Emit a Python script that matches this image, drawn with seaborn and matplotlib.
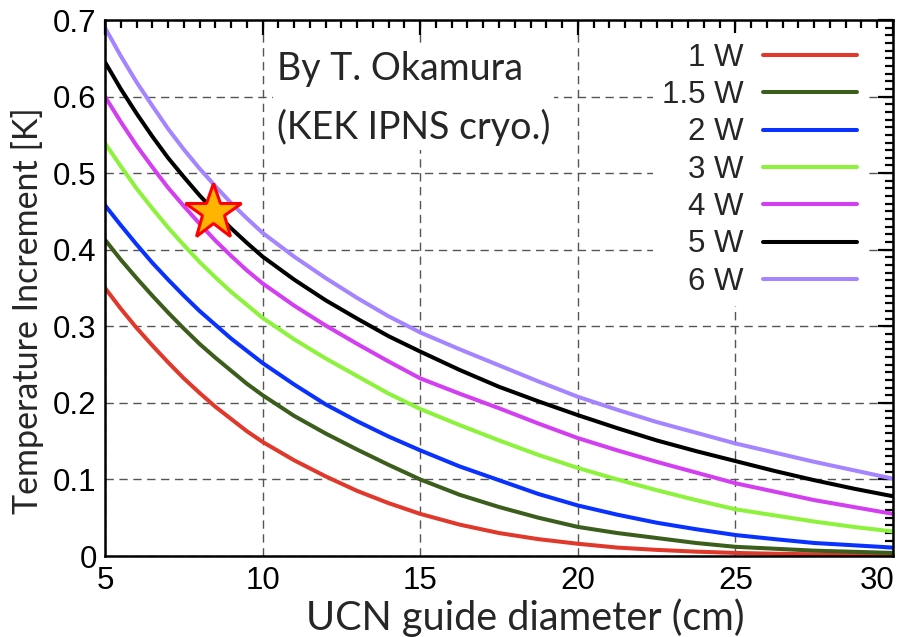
import numpy as np
import pandas as pd
import matplotlib
matplotlib.use("Agg")
import matplotlib.pyplot as plt
import matplotlib.transforms as mtransforms
from matplotlib.lines import Line2D
from matplotlib.ticker import MultipleLocator
import seaborn as sns

# ---- data ----
diameter_cm = [5, 5.5, 6, 6.5, 7, 7.5, 8, 8.5, 9, 9.5, 10, 11, 12, 13, 14, 15,
               16.25, 17.5, 18.75, 20, 21.25, 22.5, 23.75, 25, 26.25, 27.5, 28.75, 30]
t_1w = [0.350, 0.323, 0.298, 0.275, 0.253, 0.232, 0.213, 0.195, 0.179, 0.163, 0.149, 0.125,
        0.104, 0.085, 0.069, 0.055, 0.041, 0.030, 0.022, 0.016, 0.011, 0.008, 0.0057, 0.004,
        0.003, 0.0022, 0.0016, 0.001]
t_1p5w = [0.413, 0.387, 0.363, 0.340, 0.318, 0.297, 0.277, 0.259, 0.242, 0.225, 0.210, 0.183,
          0.160, 0.139, 0.119, 0.100, 0.080, 0.064, 0.050, 0.038, 0.030, 0.0235, 0.017, 0.012,
          0.0095, 0.007, 0.0055, 0.004]
t_2w = [0.458, 0.432, 0.407, 0.383, 0.361, 0.340, 0.320, 0.302, 0.284, 0.268, 0.252, 0.224,
        0.198, 0.176, 0.156, 0.138, 0.117, 0.099, 0.081, 0.066, 0.054, 0.0435, 0.035, 0.0274,
        0.022, 0.017, 0.014, 0.011]
t_3w = [0.539, 0.509, 0.480, 0.454, 0.429, 0.406, 0.384, 0.364, 0.345, 0.328, 0.311, 0.283,
        0.258, 0.235, 0.212, 0.192, 0.171, 0.151, 0.132, 0.115, 0.100, 0.086, 0.073, 0.061,
        0.053, 0.045, 0.038, 0.032]
t_4w = [0.600, 0.567, 0.536, 0.508, 0.481, 0.457, 0.434, 0.412, 0.392, 0.373, 0.356, 0.327,
        0.301, 0.277, 0.254, 0.232, 0.212, 0.193, 0.173, 0.154, 0.138, 0.123, 0.109, 0.095,
        0.084, 0.073, 0.064, 0.055]
t_5w = [0.645, 0.610, 0.578, 0.548, 0.520, 0.495, 0.471, 0.449, 0.428, 0.409, 0.391, 0.361,
        0.334, 0.310, 0.287, 0.267, 0.243, 0.221, 0.202, 0.184, 0.167, 0.151, 0.137, 0.124,
        0.111, 0.099, 0.088, 0.078]
t_6w = [0.690, 0.653, 0.619, 0.588, 0.558, 0.531, 0.506, 0.483, 0.461, 0.441, 0.422, 0.391,
        0.363, 0.337, 0.313, 0.292, 0.270, 0.249, 0.228, 0.208, 0.191, 0.175, 0.161, 0.147,
        0.135, 0.123, 0.112, 0.101]

series_labels = ["1 W", "1.5 W", "2 W", "3 W", "4 W", "5 W", "6 W"]
series_colors = ["#e0392b", "#3b5e1d", "#0a32ff", "#8cf23c", "#d23ef0", "#000000", "#a484ff"]

star_x = [8.42]
star_y = [0.449]

x_ticks = [5, 10, 15, 20, 25, 30]
y_ticks = [0, 0.1, 0.2, 0.3, 0.4, 0.5, 0.6, 0.7]
y_tick_labels = ["0", "0.1", "0.2", "0.3", "0.4", "0.5", "0.6", "0.7"]

credit_text = "By T. Okamura\n(KEK IPNS cryo.)"
x_label = "UCN guide diameter (cm)"
y_label = "Temperature Increment [K]"

# ---- build long-form table ----
all_series = [t_1w, t_1p5w, t_2w, t_3w, t_4w, t_5w, t_6w]
rows = []
for lab, vals in zip(series_labels, all_series):
    for d, v in zip(diameter_cm, vals):
        rows.append((lab, d, v))
df = pd.DataFrame(rows, columns=["power", "diameter", "dT"])
palette = dict(zip(series_labels, series_colors))

sns.set_theme(style="white")
plt.rcParams['font.family'] = ['Liberation Sans', 'DejaVu Sans']

fig = plt.figure(figsize=(8.98, 6.37), dpi=100)
ax = fig.add_axes([105 / 898, 81 / 637, 788 / 898, 536 / 637])

sns.lineplot(data=df, x="diameter", y="dT", hue="power", hue_order=series_labels,
             palette=palette, estimator=None, linewidth=2.9, legend=False, ax=ax)
for ln in ax.get_lines():
    ln.set_solid_joinstyle("round")

ax.plot(star_x, star_y, marker="*", markersize=42, markerfacecolor="#ffb400",
        markeredgecolor="#ff0000", markeredgewidth=2.2, linestyle="none", zorder=5)

ax.set_xlim(5, 30)
ax.set_ylim(0, 0.7)
ax.set_xticks(x_ticks)
ax.set_yticks(y_ticks)
ax.set_yticklabels(y_tick_labels)
ax.xaxis.set_minor_locator(MultipleLocator(0.5))
ax.yaxis.set_minor_locator(MultipleLocator(0.01))

ax.grid(True, which="major", color="#555555", linestyle=(0, (6, 4)), linewidth=1.0)
ax.set_axisbelow(True)

ax.tick_params(which="both", direction="in", top=True, right=True, colors="black",
               labelsize=22.5)
ax.tick_params(which="major", length=11, width=1.6)
ax.tick_params(which="minor", length=5.5, width=1.6)
ax.tick_params(axis="x", which="major", pad=7)
ax.tick_params(axis="y", which="major", pad=6)
for s in ax.spines.values():
    s.set_linewidth(1.8)
    s.set_color("black")

# keep the last x tick label inside the figure, as in the reference
last_lbl = ax.get_xticklabels()[-1]
last_lbl.set_transform(last_lbl.get_transform() +
                       mtransforms.ScaledTranslation(-16 / 100, 0, fig.dpi_scale_trans))

ax.set_xlabel(x_label, family=["Lato", "DejaVu Sans"], fontsize=28.5)
ax.set_ylabel(y_label, family=["Lato", "DejaVu Sans"], fontsize=24.5)
ax.xaxis.set_label_coords(0.533, -0.079)
ax.yaxis.set_label_coords(-0.077, 0.458)

ax.text(10.45, 0.659, credit_text, family=["Lato", "DejaVu Sans"], fontsize=27,
        ha="left", va="top", linespacing=1.7, zorder=6,
        bbox=dict(facecolor="white", edgecolor="none", pad=3))

handles = [Line2D([], [], color=c, linewidth=2.9) for c in series_colors]
leg = ax.legend(handles, series_labels, loc="upper right", bbox_to_anchor=(0.966, 0.975),
                markerfirst=False, frameon=True, facecolor="white", edgecolor="none",
                framealpha=1, fancybox=False, fontsize=22.5, handlelength=3.0,
                handletextpad=0.62, labelspacing=0.235, borderpad=0.3, borderaxespad=0)
leg.set_zorder(7)

fig.savefig("out.png", dpi=100, facecolor="white")
